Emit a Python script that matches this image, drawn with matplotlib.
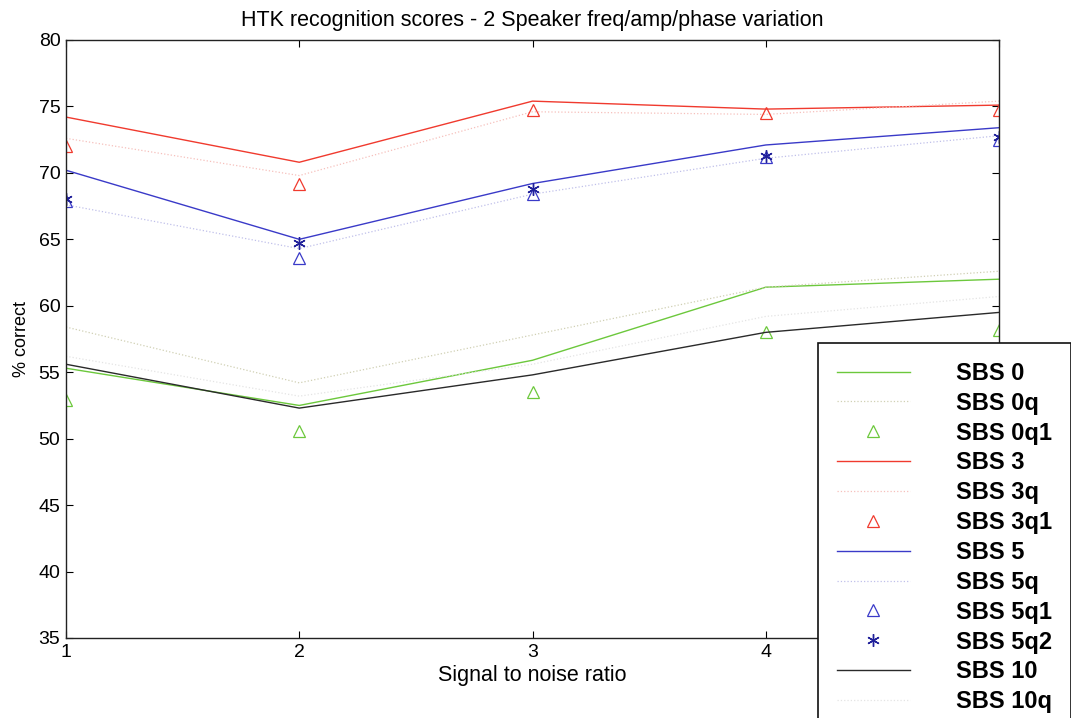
import matplotlib.pyplot as plt

plt.rcParams['font.family'] = ['Liberation Sans', 'DejaVu Sans']

snr = [1, 2, 3, 4, 5]
# the "5" label sits under the legend box
snr_labels = ['1', '2', '3', '4', '']

# recognition scores (% correct) per SBS setting
sbs0 = [55.3, 52.5, 55.9, 61.4, 62.0]
sbs0q = [58.4, 54.2, 57.8, 61.4, 62.6]
sbs0q1 = [52.9, 50.6, 53.5, 58.0, 58.2]
sbs3 = [74.2, 70.8, 75.4, 74.8, 75.1]
sbs3q = [72.6, 69.8, 74.6, 74.4, 75.4]
sbs3q1 = [72.0, 69.2, 74.7, 74.5, 74.7]
sbs5 = [70.2, 65.0, 69.2, 72.1, 73.4]
sbs5q = [67.6, 64.3, 68.4, 71.1, 72.8]
sbs5q1 = [67.9, 63.6, 68.4, 71.2, 72.5]
sbs5q2 = [68.0, 64.7, 68.8, 71.3, 72.7]
sbs10 = [55.6, 52.3, 54.8, 58.0, 59.5]
sbs10q = [56.2, 53.2, 55.6, 59.2, 60.7]

green = '#6cc83c'
red = '#f03a2e'
blue = '#3a3ac8'
black = '#2a2a2a'

fig = plt.figure(figsize=(10.71, 7.18), dpi=100)
ax = fig.add_axes([66/1071, 1 - 638/718, 933/1071, 598/718])

tri = dict(linestyle='none', marker='^', markersize=9, markerfacecolor='none', markeredgewidth=0.9)

ax.plot(snr, sbs0, color=green, lw=1, label='SBS 0')
ax.plot(snr, sbs0q, color='#d0d0b4', lw=0.9, ls=':', label='SBS 0q')
ax.plot(snr, sbs0q1, color=green, label='SBS 0q1', **tri)
ax.plot(snr, sbs3, color=red, lw=1, label='SBS 3')
ax.plot(snr, sbs3q, color='#f6c0bc', lw=0.9, ls=':', label='SBS 3q')
ax.plot(snr, sbs3q1, color=red, label='SBS 3q1', **tri)
ax.plot(snr, sbs5, color=blue, lw=1, label='SBS 5')
ax.plot(snr, sbs5q, color='#c0c0ea', lw=0.9, ls=':', label='SBS 5q')
ax.plot(snr, sbs5q1, color=blue, label='SBS 5q1', **tri)
ax.plot(snr, sbs5q2, color='#20209a', ls='none', marker=(6, 2, 0), markersize=9,
        markeredgewidth=1.0, label='SBS 5q2')
ax.plot(snr, sbs10, color=black, lw=1, label='SBS 10')
ax.plot(snr, sbs10q, color='#e4e4e4', lw=0.9, ls=':', label='SBS 10q')

ax.set_xlim(1, 5)
ax.set_ylim(35, 80)
ax.set_xticks(snr)
ax.set_xticklabels(snr_labels)
ax.set_yticks(range(35, 81, 5))
ax.tick_params(direction='in', length=5, top=True, right=True, labelsize=14, pad=4)
for s in ax.spines.values():
    s.set_linewidth(1.0)
    s.set_color('#222222')

ax.set_title('HTK recognition scores - 2 Speaker freq/amp/phase variation', fontsize=15.5, pad=10)
ax.set_xlabel('Signal to noise ratio', fontsize=15.5, labelpad=3)
ax.set_ylabel('% correct', fontsize=13, labelpad=6)

leg = ax.legend(loc='upper left', bbox_to_anchor=(818/1071, 1 - 343/718),
                bbox_transform=fig.transFigure, fancybox=False, framealpha=1,
                edgecolor='#111111', prop={'size': 17, 'weight': 'bold'},
                handlelength=3.1, handletextpad=1.95, labelspacing=0.29,
                borderpad=0.8, borderaxespad=0)
leg.get_frame().set_linewidth(1.2)
leg.set_zorder(10)

fig.savefig('out.png', dpi=100)
